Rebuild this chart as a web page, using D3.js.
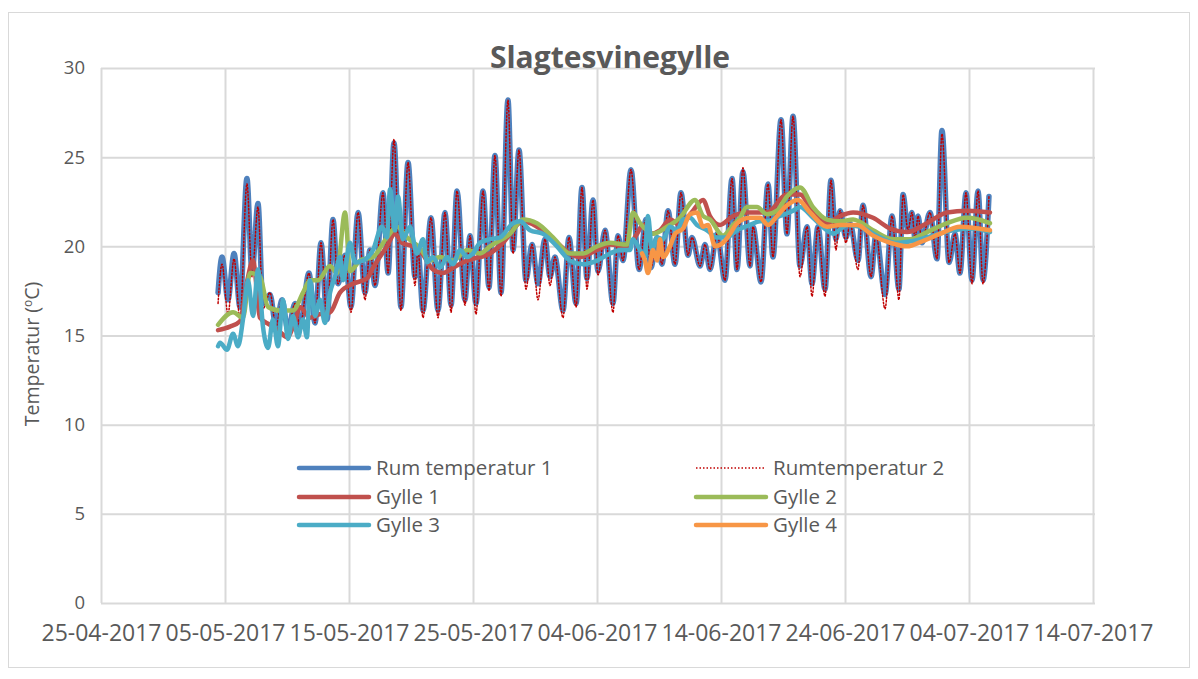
<!DOCTYPE html>
<html><head><meta charset="utf-8">
<script src="https://cdn.jsdelivr.net/npm/d3@7"></script>
<style>body{margin:0;background:#fff}svg{display:block}</style>
</head><body><svg id="c" width="1198" height="679"></svg>
<script>
// ---- data (days counted from 25-04-2017) ----
const title = "Slagtesvinegylle";
const yTicks = [0, 5, 10, 15, 20, 25, 30];
const xTickLabels = ["25-04-2017","05-05-2017","15-05-2017","25-05-2017","04-06-2017","14-06-2017","24-06-2017","04-07-2017","14-07-2017"];
const seriesNames = ["Rum temperatur 1","Rumtemperatur 2","Gylle 1","Gylle 2","Gylle 3","Gylle 4"];

const roomDays = [9.44,9.76,10.24,10.73,11.21,11.77,12.18,12.66,13.06,13.63,14.11,14.60,15.08,15.65,16.05,16.77,17.26,17.74,18.23,18.71,19.11,19.68,20.16,20.73,21.29,21.69,22.10,22.74,23.15,23.63,24.19,24.76,25.32,25.56,25.97,26.61,27.18,27.74,28.23,28.71,29.35,29.76,30.24,30.81,31.29,31.77,32.26,32.82,33.23,33.71,34.27,34.76,35.24,35.81,36.21,36.61,37.26,37.74,38.31,38.79,39.19,39.68,40.08,40.65,41.29,41.69,42.10,42.74,43.39,43.95,44.35,44.84,45.24,45.73,46.29,46.77,47.34,47.66,48.31,48.71,49.11,49.68,50.32,50.89,51.29,51.77,52.34,52.58,53.23,53.79,54.19,54.84,55.32,55.81,56.37,56.94,57.34,57.82,58.39,58.87,59.27,59.60,60.08,60.40,61.05,61.45,62.10,62.50,63.23,63.79,64.35,64.68,65.08,65.40,65.65,65.89,66.21,66.85,67.42,67.82,68.39,68.87,69.27,69.76,70.24,70.73,71.13,71.61];
const rum1 = [17.4,19.4,17.0,19.6,16.6,23.8,18.5,22.4,16.8,17.3,15.5,17.0,15.3,16.8,15.5,18.5,15.7,20.2,15.9,21.5,17.9,19.5,16.6,21.9,17.4,19.8,17.8,23.0,18.5,25.8,16.6,24.7,18.3,19.8,16.4,21.6,16.4,21.9,16.7,23.1,17.0,20.6,16.8,23.1,17.7,25.1,17.4,28.2,19.8,25.4,18.1,20.1,17.9,20.4,18.3,19.4,16.4,20.5,16.8,23.3,18.2,22.6,18.6,20.9,16.8,20.6,19.2,24.3,18.7,21.5,18.8,20.5,19.0,22.0,19.0,23.0,19.5,20.5,18.9,20.1,18.7,20.7,18.1,23.8,18.7,24.2,18.9,21.1,18.0,23.5,19.4,27.1,20.7,27.3,18.9,21.1,17.9,21.1,17.6,23.7,20.4,22.0,20.5,21.3,19.2,22.3,18.3,20.7,17.3,21.7,17.6,22.9,20.9,21.9,20.4,21.7,20.2,21.9,19.3,26.5,19.1,20.7,18.5,23.0,18.1,23.1,18.1,22.8];
const rum2 = [16.8,19.0,16.2,19.3,15.9,23.5,18.3,22.2,16.5,17.4,15.5,17.0,15.3,16.8,15.5,18.5,15.7,20.2,15.9,21.5,17.9,19.5,16.3,21.9,17.0,19.8,17.8,23.0,18.5,26.0,16.4,24.7,17.8,19.8,16.0,21.6,16.0,21.9,16.3,23.1,16.7,20.6,16.2,23.1,17.5,25.1,17.2,28.2,19.6,25.4,17.6,20.1,17.0,20.4,17.8,19.4,16.0,20.5,16.6,23.3,17.6,22.6,18.4,20.9,16.3,20.6,19.2,24.3,18.7,21.5,18.8,20.5,19.0,22.0,19.0,23.0,19.5,20.5,18.9,20.1,18.7,20.7,18.1,23.8,18.7,24.4,18.9,21.1,18.0,23.5,19.4,27.1,20.7,27.3,18.3,21.1,17.2,21.1,17.2,23.7,19.8,22.0,20.2,21.3,18.7,22.3,18.3,20.7,16.5,21.7,17.0,22.9,20.9,21.9,20.4,21.7,20.2,21.9,19.3,26.3,19.1,20.7,18.5,23.0,17.9,23.1,17.9,22.8];

const gylle1Days = [9.44,10.40,11.21,11.77,12.26,12.82,13.63,14.44,15.00,15.65,16.05,16.85,17.66,18.47,19.27,20.32,21.45,21.94,23.06,23.71,24.27,25.16,25.89,26.77,27.58,28.39,29.19,30.00,31.37,32.42,34.03,35.16,36.77,37.82,38.63,40.00,41.05,42.42,43.23,43.71,44.27,45.08,45.89,46.69,47.74,48.55,49.11,49.92,50.97,52.10,53.71,55.32,56.37,57.42,58.55,59.60,60.65,62.26,63.63,65.00,66.61,68.23,69.84,71.69];
const gylle1 = [15.3,15.5,15.8,18.0,19.2,16.0,15.6,15.2,14.9,15.8,16.6,16.0,16.2,16.3,17.4,17.9,18.2,18.8,20.0,20.7,20.2,20.0,19.6,18.7,18.5,18.8,19.1,19.3,19.6,20.2,21.4,21.1,20.2,19.6,19.4,19.8,20.1,20.0,20.7,21.2,20.7,20.9,21.5,21.2,22.0,22.6,21.7,21.2,21.7,21.9,21.9,22.9,22.9,21.9,21.3,21.7,21.9,21.6,21.0,20.8,21.3,21.9,22.0,21.9];

const gylle2Days = [9.44,10.65,11.45,12.02,12.82,13.47,14.44,15.48,16.29,16.85,17.50,18.47,19.03,19.68,20.08,20.89,21.94,23.06,23.87,24.68,25.73,26.53,27.34,28.39,29.52,30.56,31.37,32.98,34.03,35.16,36.45,37.82,38.87,40.00,41.05,42.42,42.90,43.47,44.52,45.65,46.69,47.90,48.55,49.11,50.16,50.97,51.53,52.10,52.90,53.71,54.52,55.32,56.37,57.42,58.55,59.60,60.65,62.26,63.87,65.24,66.61,68.23,69.84,71.69];
const gylle2 = [15.6,16.3,16.0,18.5,18.3,16.6,16.4,16.4,17.4,18.1,18.1,18.9,18.5,21.9,18.6,19.2,19.4,20.5,21.1,20.5,19.9,19.2,19.4,19.2,19.8,19.6,20.0,20.7,21.5,21.3,20.5,19.6,19.6,20.0,20.2,20.1,21.9,21.3,20.7,21.1,21.6,22.6,21.7,21.5,20.6,21.2,21.6,22.2,22.2,21.8,22.0,22.8,23.3,22.2,21.5,21.4,21.5,20.9,20.4,20.4,20.8,21.3,21.6,21.3];

const gylle3Days = [9.44,9.60,10.16,10.65,11.05,11.45,11.85,12.26,12.66,13.06,13.47,13.87,14.27,14.68,15.08,15.48,15.89,16.29,16.61,16.85,17.26,17.66,18.06,18.47,18.87,19.27,19.52,20.08,20.48,21.13,21.94,22.66,23.06,23.31,23.71,23.95,24.35,24.92,25.48,25.97,26.29,26.77,27.34,27.90,28.39,28.95,29.52,30.00,30.56,31.37,32.18,33.23,33.79,34.60,35.65,36.77,37.82,38.87,40.00,41.05,41.85,42.66,42.90,43.47,43.87,44.11,44.44,44.84,45.32,45.89,46.45,46.94,47.50,48.06,48.87,49.68,50.48,51.29,52.34,53.15,53.71,54.76,55.81,56.37,57.42,58.55,59.03,60.16,61.21,62.82,64.19,65.48,67.10,68.71,70.32,71.69];
const gylle3 = [14.4,14.6,14.2,15.1,14.4,15.9,18.1,16.1,18.7,15.5,14.3,15.9,14.4,17.0,14.8,16.1,14.9,15.9,14.9,18.1,16.1,17.0,15.7,17.4,18.3,19.4,18.1,20.2,19.1,19.2,19.8,21.1,20.5,23.2,20.9,22.8,20.4,21.1,19.6,20.4,19.1,19.4,18.8,19.4,19.0,19.8,19.4,19.6,20.2,20.4,20.5,21.3,21.4,20.9,20.7,20.0,19.2,19.0,19.2,19.6,19.8,19.8,20.4,19.8,19.4,21.7,19.8,20.5,20.4,21.1,20.9,21.5,21.6,21.2,20.9,20.5,20.5,20.9,21.2,21.4,21.4,21.7,22.0,22.2,21.6,20.9,20.7,21.2,21.1,20.5,20.2,20.3,20.6,20.9,21.0,20.8];

const gylle4Days = [43.63,43.87,44.11,44.52,44.84,45.08,45.32,45.89,46.29,46.94,47.50,48.06,48.55,48.95,49.52,50.16,50.73,51.29,52.34,53.15,53.79,54.52,55.32,56.21,57.18,58.55,59.60,60.97,62.26,63.63,65.00,66.29,67.66,69.27,71.69];
const gylle4 = [19.6,19.2,18.5,19.8,19.2,20.4,19.4,20.0,20.7,21.0,21.8,21.9,21.1,21.2,20.0,20.2,20.7,21.3,21.6,21.6,21.2,21.7,22.3,22.6,21.9,21.1,21.2,21.2,20.6,20.2,20.0,20.3,20.7,21.1,20.9];

const colors = ["#4F81BD","#C00000","#C0504D","#9BBB59","#4BACC6","#F79646"];

// ---- chart ----
const svg = d3.select("#c");
const W = 1198, H = 679;
const m = {left: 101, right: 1093, top: 68, bottom: 603};
const start = new Date(2017, 3, 25);
const toDate = d => new Date(start.getTime() + d * 86400000);

const x = d3.scaleTime().domain([start, toDate(80)]).range([m.left, m.right]);
const y = d3.scaleLinear().domain([0, 30]).range([m.bottom, m.top]);
const tickDates = xTickLabels.map(s => d3.timeParse("%d-%m-%Y")(s));

svg.append("rect").attr("x", 0).attr("y", 0).attr("width", W).attr("height", H).attr("fill", "#fff");
svg.append("rect").attr("x", 8.5).attr("y", 12.5).attr("width", 1181).attr("height", 655)
  .attr("fill", "none").attr("stroke", "#D9D9D9").attr("stroke-width", 1);

const textColor = "#595959";
const font = "'Open Sans', 'Liberation Sans', sans-serif";

// gridlines + axes
const gx = svg.append("g").attr("transform", `translate(0,${m.bottom})`)
  .call(d3.axisBottom(x).tickValues(tickDates).tickSize(-(m.bottom - m.top)).tickFormat(d3.timeFormat("%d-%m-%Y")).tickPadding(22));
gx.select(".domain").remove();
gx.selectAll(".tick line").attr("stroke", "#D9D9D9").attr("stroke-width", 2);
gx.selectAll(".tick text").attr("fill", textColor).attr("font-family", font).attr("font-size", 23);

const gy = svg.append("g").attr("transform", `translate(${m.left},0)`)
  .call(d3.axisLeft(y).tickValues(yTicks).tickSize(-(m.right - m.left + 2)).tickPadding(16));
gy.select(".domain").remove();
gy.selectAll(".tick line").attr("stroke", "#D9D9D9").attr("stroke-width", 2);
gy.selectAll(".tick text").attr("fill", textColor).attr("font-family", font).attr("font-size", 18.5);

// series
const allDays = [roomDays, roomDays, gylle1Days, gylle2Days, gylle3Days, gylle4Days];
const allVals = [rum1, rum2, gylle1, gylle2, gylle3, gylle4];
const line = d3.line().x(d => x(toDate(d[0]))).y(d => y(d[1])).curve(d3.curveMonotoneX);
const widths = [5.5, 1.5, 4.5, 4.5, 4.5, 4.5];
const dashes = [null, "1.5,2", null, null, null, null];
[0, 1, 2, 3, 4, 5].forEach(i => {
  const pts = allDays[i].map((d, k) => [d, allVals[i][k]]);
  svg.append("path").datum(pts).attr("d", line)
    .attr("fill", "none").attr("stroke", colors[i]).attr("stroke-width", widths[i])
    .attr("stroke-linejoin", "round").attr("stroke-linecap", "round")
    .attr("stroke-dasharray", dashes[i]);
});

// title
svg.append("text").attr("x", 610).attr("y", 68).attr("text-anchor", "middle")
  .attr("font-family", font).attr("font-weight", "bold").attr("font-size", 30)
  .attr("fill", textColor).text(title);

// y-axis title
const yt = svg.append("text").attr("transform", "translate(39,354) rotate(-90)")
  .attr("text-anchor", "middle").attr("font-family", font).attr("font-size", 19.5).attr("fill", textColor);
yt.append("tspan").text("Temperatur (");
yt.append("tspan").attr("font-size", 12).attr("dy", -7).text("o");
yt.append("tspan").attr("dy", 7).text("C)");

// legend
const legPos = [[299, 468], [696, 468], [299, 497], [696, 497], [299, 525], [696, 525]];
seriesNames.forEach((n, i) => {
  const [lx, ly] = legPos[i];
  svg.append("line").attr("x1", lx).attr("x2", lx + 70).attr("y1", ly).attr("y2", ly)
    .attr("stroke", colors[i]).attr("stroke-width", i === 1 ? 1.5 : 4.5)
    .attr("stroke-dasharray", dashes[i]).attr("stroke-linecap", i === 1 ? "butt" : "round");
  svg.append("text").attr("x", lx + 77).attr("y", ly + 7).attr("font-family", font)
    .attr("font-size", 20.5).attr("fill", textColor).text(n);
});
</script></body></html>
